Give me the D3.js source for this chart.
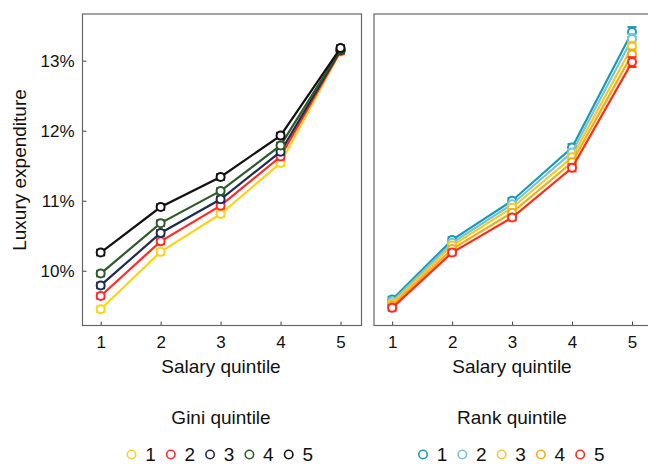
<!DOCTYPE html>
<html><head><meta charset="utf-8">
<script src="https://cdn.jsdelivr.net/npm/d3@7"></script>
<style>body{margin:0;background:#fff;}svg{display:block;font-family:"Liberation Sans",Arial,sans-serif;}</style>
</head><body><svg id="c" width="648" height="464"></svg>
<script>
const salary = [1, 2, 3, 4, 5];
const yTicks = [10, 11, 12, 13];
const giniLabels = ["1", "2", "3", "4", "5"];
const rankLabels = ["1", "2", "3", "4", "5"];
const giniColors = ["#FFD21A", "#FF2A2A", "#1E2B52", "#2F5A2A", "#111111"];
const rankColors = ["#1A9BB5", "#74C4DB", "#F3C92A", "#EFAE1B", "#FF2B1B"];
const gini1 = [9.45, 10.27, 10.81, 11.54, 13.13];
const gini2 = [9.64, 10.42, 10.93, 11.63, 13.14];
const gini3 = [9.79, 10.54, 11.02, 11.70, 13.15];
const gini4 = [9.96, 10.68, 11.14, 11.79, 13.16];
const gini5 = [10.26, 10.91, 11.34, 11.93, 13.18];
const rank1 = [9.59, 10.44, 11.00, 11.76, 13.41];
const rank2 = [9.56, 10.40, 10.95, 11.69, 13.31];
const rank3 = [9.53, 10.36, 10.90, 11.62, 13.20];
const rank4 = [9.50, 10.31, 10.83, 11.55, 13.09];
const rank5 = [9.47, 10.26, 10.76, 11.47, 12.98];
const giniErr = [0.04, 0.04, 0.04, 0.04, 0.04];
const rankErr = [0.04, 0.04, 0.04, 0.05, 0.07];

const svg = d3.select("#c");
const y = d3.scaleLinear().domain([9.218, 13.667]).range([325.5, 14]);

function panel(x0, x1, series, colors, err, showY, legendTitle, labels, legendX, centerX) {
  const x = d3.scaleLinear().domain([0.697, 5.35]).range([x0, x1]);
  const g = svg.append("g");
  const ax = g.append("g").attr("transform", `translate(0,${y.range()[0]})`)
    .call(d3.axisBottom(x).tickValues(salary).tickFormat(d3.format("d")).tickSizeInner(-4).tickSizeOuter(0).tickPadding(10));
  ax.select(".domain").remove();
  ax.selectAll(".tick line").attr("stroke", "#444");
  ax.selectAll(".tick text").attr("font-size", 17).attr("fill", "#111").attr("font-family", "Liberation Sans, Arial, sans-serif");
  if (showY) {
    const ay = g.append("g").attr("transform", `translate(${x0},0)`)
      .call(d3.axisLeft(y).tickValues(yTicks).tickFormat(d => d + "%").tickSizeInner(-4).tickSizeOuter(0).tickPadding(8));
    ay.select(".domain").remove();
    ay.selectAll(".tick line").attr("stroke", "#444");
    ay.selectAll(".tick text").attr("font-size", 17).attr("fill", "#111").attr("font-family", "Liberation Sans, Arial, sans-serif");
  }
  g.append("rect").attr("x", x0).attr("y", y.range()[1]).attr("width", x1 - x0).attr("height", y.range()[0] - y.range()[1])
    .attr("fill", "none").attr("stroke", "#666").attr("stroke-width", 1.2);
  const line = d3.line().x((d, i) => x(salary[i])).y(d => y(d));
  series.forEach((s, k) => {
    const c = colors[k];
    g.append("path").datum(s).attr("d", line).attr("fill", "none").attr("stroke", c).attr("stroke-width", 2.2);
    s.forEach((v, i) => {
      const cx = x(salary[i]);
      const e = err[i];
      g.append("line").attr("x1", cx).attr("x2", cx).attr("y1", y(v - e)).attr("y2", y(v + e)).attr("stroke", c).attr("stroke-width", 2);
      [v - e, v + e].forEach(t => g.append("line").attr("x1", cx - 4.5).attr("x2", cx + 4.5).attr("y1", y(t)).attr("y2", y(t)).attr("stroke", c).attr("stroke-width", 2));
      g.append("circle").attr("cx", cx).attr("cy", y(v)).attr("r", 4).attr("fill", "#fff").attr("stroke", c).attr("stroke-width", 2);
    });
  });
  svg.append("text").attr("x", centerX).attr("y", 373).attr("text-anchor", "middle").attr("font-size", 19).attr("fill", "#111").text("Salary quintile");
  svg.append("text").attr("x", centerX).attr("y", 424).attr("text-anchor", "middle").attr("font-size", 19).attr("fill", "#111").text(legendTitle);
  labels.forEach((l, k) => {
    const lx = legendX + k * 39.3;
    svg.append("circle").attr("cx", lx).attr("cy", 454.5).attr("r", 4.2).attr("fill", "none").attr("stroke", colors[k]).attr("stroke-width", 1.6);
    svg.append("text").attr("x", lx + 19).attr("y", 461).attr("text-anchor", "middle").attr("font-size", 19).attr("fill", "#111").text(l);
  });
}

panel(82.5, 361.5, [gini1, gini2, gini3, gini4, gini5], giniColors, giniErr, true, "Gini quintile", giniLabels, 131.5, 221);
panel(374, 653, [rank1, rank2, rank3, rank4, rank5], rankColors, rankErr, false, "Rank quintile", rankLabels, 423, 512);

svg.append("text").attr("transform", "translate(26,170) rotate(-90)").attr("text-anchor", "middle").attr("font-size", 19).attr("fill", "#111").text("Luxury expenditure");
</script></body></html>
